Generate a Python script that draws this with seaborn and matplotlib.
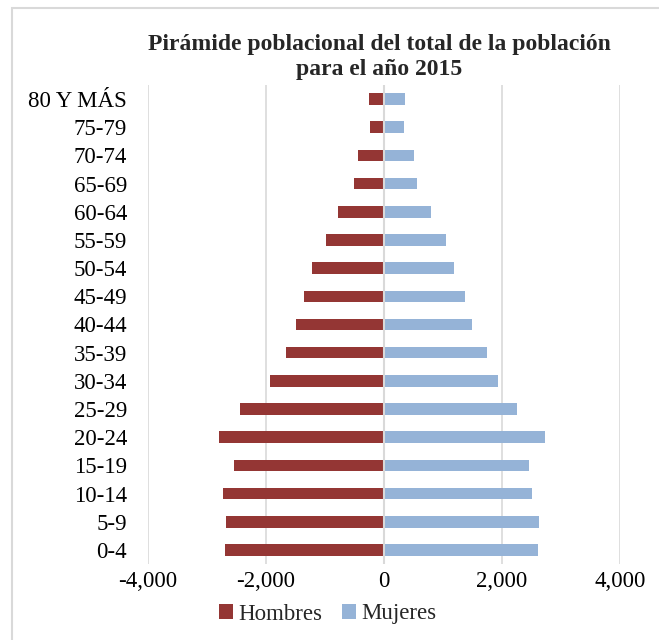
import pandas as pd
import matplotlib
matplotlib.use('Agg')
import matplotlib.pyplot as plt
import matplotlib.ticker as mticker
from matplotlib.patches import Rectangle
import seaborn as sns

# Datos (poblacion 2015)
grupos = ['80 Y MÁS', '75-79', '70-74', '65-69', '60-64', '55-59', '50-54',
          '45-49', '40-44', '35-39', '30-34', '25-29', '20-24', '15-19',
          '10-14', '5-9', '0-4']
hombres = [250, 238, 438, 510, 773, 980, 1222, 1352, 1500, 1665, 1940,
           2448, 2805, 2546, 2728, 2675, 2700]
mujeres = [358, 337, 501, 566, 795, 1045, 1185, 1368, 1490, 1750, 1930,
           2250, 2730, 2457, 2514, 2620, 2607]
sexos = ['Hombres', 'Mujeres']
colores = ['#943634', '#95B3D7']
xticks = [-4000, -2000, 0, 2000, 4000]

df = pd.DataFrame({
    'grupo': grupos * 2,
    'valor': [-v for v in hombres] + mujeres,
    'sexo': [sexos[0]] * len(grupos) + [sexos[1]] * len(grupos),
})

sns.set_style('white')
plt.rcParams['font.family'] = ['Liberation Serif', 'DejaVu Serif']

fig = plt.figure(figsize=(6.59, 6.40), dpi=100)
ax = fig.add_axes([148 / 659, 1 - 564 / 640, 472 / 659, 479 / 640])

sns.barplot(data=df, y='grupo', x='valor', hue='sexo', order=grupos,
            hue_order=sexos, palette=colores, saturation=1, dodge=False,
            width=0.41, errorbar=None, linewidth=0, ax=ax, zorder=3)

ax.set_xlim(-4000, 4000)
ax.set_xticks(xticks)
ax.xaxis.set_major_formatter(mticker.FuncFormatter(lambda x, p: f'{x:,.0f}'))
ax.grid(axis='x', color='#d9d9d9', linewidth=1.2, zorder=0)
ax.axvline(0, color='#d9d9d9', linewidth=1.5, zorder=4)
for s in ax.spines.values():
    s.set_visible(False)
ax.tick_params(axis='both', length=0, labelsize=16.5, colors='black')
ax.tick_params(axis='y', pad=15)
ax.tick_params(axis='x', pad=5)
ax.set_xlabel('')
ax.set_ylabel('')

handles, labels = ax.get_legend_handles_labels()
ax.get_legend().remove()
fig.legend(handles, labels, loc='center', bbox_to_anchor=(328 / 659, 1 - 614 / 640),
           ncol=2, frameon=False, fontsize=16.5, handlelength=0.6, handleheight=0.6,
           handletextpad=0.25, columnspacing=0.85)

fig.text(379 / 659, 1 - 57 / 640,
         'Pirámide poblacional del total de la población\npara el año 2015',
         ha='center', va='center', fontsize=17, fontweight='bold',
         linespacing=1.25)

fig.patches.append(Rectangle((12 / 659, -0.1), 1.2, 1.1 - 8 / 640,
                             transform=fig.transFigure, facecolor='none',
                             edgecolor='#d9d9d9', linewidth=1.5))

fig.savefig('out.png', dpi=100)
